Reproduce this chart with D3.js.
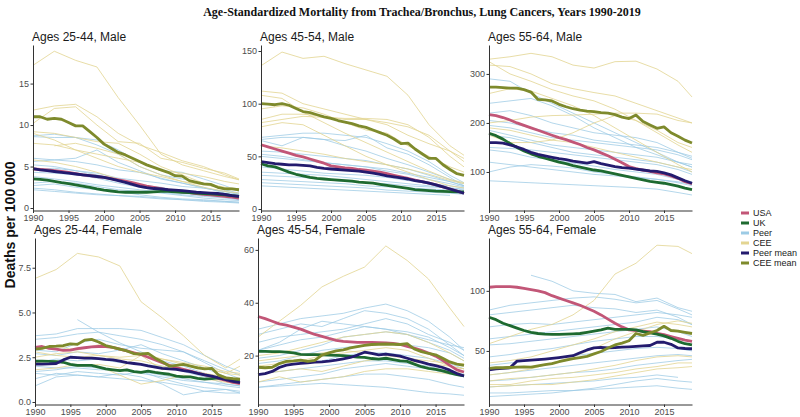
<!DOCTYPE html>
<html lang="en">
<head>
<meta charset="UTF-8" />
<title>Age-Standardized Mortality from Trachea/Bronchus, Lung Cancers</title>
<script src="https://d3js.org/d3.v7.min.js"></script>
<style>
    body { margin: 0; background: #fff; }
    .tick text { font-family: "Liberation Sans", Arial, sans-serif; font-size: 9px; fill: #4d4d4d; }
    .tick line { stroke: #333; }
    .domain { stroke: #333; }
    .ptitle { font-family: "Liberation Sans", Arial, sans-serif; font-size: 12px; fill: #1a1a1a; }
    .legend text { font-family: "Liberation Sans", Arial, sans-serif; font-size: 9px; fill: #1a1a1a; }
</style>
</head>
<body>
<div id="chart"></div>
<script>
// years of the yearly series
const years = [1990, 1991, 1992, 1993, 1994, 1995, 1996, 1997, 1998, 1999,
               2000, 2001, 2002, 2003, 2004, 2005, 2006, 2007, 2008, 2009,
               2010, 2011, 2012, 2013, 2014, 2015, 2016, 2017, 2018, 2019];
// years read for the single Peer / CEE countries
const bgYears = [1990, 1993, 1996, 1999, 2002, 2005, 2008, 2011, 2014, 2017, 2019];
const xTicks = [1990, 1995, 2000, 2005, 2010, 2015];

const legendLabels = ["USA", "UK", "Peer", "CEE", "Peer mean", "CEE mean"];
const legendColors = ["#c25677", "#1e6a30", "#9ccbe5", "#e3d592", "#231b6e", "#7e8a2c"];

// Ages 25-44, Male
const usaM2544 = [4.7, 4.65, 4.6, 4.5, 4.4, 4.3, 4.15, 4.0, 3.9, 3.8, 3.7, 3.55, 3.4, 3.25, 3.05, 2.85, 2.65, 2.5, 2.35, 2.2, 2.05, 1.95, 1.85, 1.75, 1.65, 1.6, 1.5, 1.4, 1.3, 1.2];
const ukM2544 = [3.5, 3.45, 3.35, 3.2, 3.05, 2.95, 2.8, 2.65, 2.5, 2.3, 2.15, 2.05, 1.95, 1.9, 1.9, 1.9, 1.9, 1.95, 2.0, 2.0, 1.95, 1.9, 1.85, 1.8, 1.75, 1.7, 1.65, 1.6, 1.5, 1.4];
const peerMeanM2544 = [4.75, 4.6, 4.5, 4.4, 4.3, 4.2, 4.1, 4.0, 3.9, 3.8, 3.7, 3.5, 3.3, 3.1, 2.85, 2.6, 2.45, 2.35, 2.3, 2.2, 2.15, 2.1, 2.0, 1.9, 1.85, 1.8, 1.75, 1.65, 1.5, 1.4];
const ceeMeanM2544 = [11.0, 11.0, 10.7, 10.8, 10.7, 10.3, 9.9, 9.9, 9.2, 8.5, 7.7, 7.2, 6.7, 6.4, 6.0, 5.6, 5.2, 4.9, 4.6, 4.3, 3.9, 3.85, 3.3, 3.1, 2.9, 2.85, 2.5, 2.3, 2.3, 2.2];
const peerM2544 = [
    [8.7, 8.9, 8.5, 7.6, 6.5, 5.0, 4.0, 3.5, 3.0, 2.2, 1.8],
    [8.6, 8.5, 8.5, 8.2, 7.0, 5.5, 4.5, 4.3, 3.5, 2.7, 2.0],
    [6.0, 5.8, 6.0, 7.0, 5.5, 4.5, 3.5, 3.0, 2.5, 1.8, 1.5],
    [5.6, 5.8, 5.6, 5.2, 4.6, 4.3, 3.6, 3.0, 2.4, 2.0, 1.6],
    [5.2, 5.0, 4.5, 4.0, 3.4, 2.8, 2.5, 2.0, 1.7, 1.5, 1.3],
    [4.3, 4.2, 4.0, 3.6, 3.0, 2.5, 2.0, 1.8, 1.5, 1.3, 1.1],
    [3.8, 3.5, 3.2, 2.8, 2.5, 2.2, 1.9, 1.6, 1.4, 1.2, 1.0],
    [3.0, 3.2, 3.0, 2.6, 2.2, 2.0, 1.8, 1.5, 1.2, 1.0, 0.9],
    [2.7, 2.9, 2.5, 2.2, 2.0, 1.6, 1.3, 1.1, 1.0, 0.8, 0.7],
    [2.4, 2.2, 1.9, 1.7, 1.5, 1.4, 1.2, 1.0, 0.9, 0.8, 0.7],
    [2.2, 2.0, 1.8, 1.6, 1.5, 1.3, 1.1, 1.0, 0.8, 0.7, 0.6],
    [4.6, 4.8, 4.5, 4.2, 3.6, 3.3, 3.0, 2.6, 2.4, 2.0, 1.7]
];
const ceeM2544 = [
    [17.2, 18.9, 17.8, 17.0, 13.3, 10.0, 6.5, 5.2, 4.5, 3.8, 3.4],
    [11.8, 12.3, 12.5, 11.0, 9.0, 7.6, 6.7, 5.7, 5.0, 4.0, 3.4],
    [10.2, 12.0, 12.2, 10.0, 8.0, 7.8, 6.0, 5.5, 4.8, 4.2, 3.5],
    [9.2, 9.0, 8.5, 8.0, 7.8, 6.5, 5.0, 4.0, 3.0, 2.5, 2.3],
    [9.0, 8.2, 7.0, 6.0, 5.0, 4.3, 3.8, 3.2, 2.8, 2.4, 2.2],
    [null, 7.5, 7.8, 7.2, 6.5, 5.0, 4.0, 3.2, 2.5, 2.0, 1.8],
    [5.8, 5.5, 5.0, 4.3, 3.5, 2.8, 2.4, 2.0, 1.8, 1.6, 1.5],
    [7.8, 7.6, 7.0, 6.5, 6.0, 5.5, 4.5, 4.2, 3.8, 3.2, 2.9]
];

// Ages 45-54, Male
const usaM4554 = [61, 59, 57, 55, 53, 51, 49.5, 47.5, 45.5, 43.5, 41, 40, 39, 38.5, 37.5, 37, 36, 35, 33.5, 32, 30.5, 29, 27.5, 26, 24.5, 23, 21, 19, 17, 15];
const ukM4554 = [43, 41, 40, 37.5, 35, 33, 31.5, 30, 29, 28.5, 28, 27.5, 27, 26.5, 25.5, 25, 24.5, 23.5, 22.5, 21.5, 20.5, 19.5, 18.5, 18, 17.5, 17, 16.8, 16.5, 16.3, 16.3];
const peerMeanM4554 = [45, 44, 43, 42.5, 42, 42, 41.5, 41, 39.5, 38.5, 38, 37.5, 37, 36.5, 36, 35, 34, 33, 31.5, 30.5, 29.5, 28.5, 27, 26, 24.5, 23, 21, 19, 17, 15];
const ceeMeanM4554 = [100, 99.5, 99, 100, 98.5, 95.5, 92.5, 91.5, 89.5, 87.5, 86, 84, 82.5, 81, 79, 77.5, 75, 72.5, 70, 66.5, 62, 62.5, 57, 52.5, 48, 48, 42, 37.5, 33.5, 32];
const peerM4554 = [
    [68, 70, 72, 72, 70, 68, 62, 55, 45, 32, 25],
    [65, 60, 68, 66, 65, 70, 58, 52, 42, 30, 22],
    [66, 68, 68, 66, 60, 55, 48, 42, 35, 28, 24],
    [55, 54, 52, 50, 48, 46, 42, 38, 32, 26, 22],
    [52, 50, 47, 44, 42, 40, 36, 33, 28, 24, 21],
    [50, 48, 46, 44, 42, 40, 38, 34, 30, 26, 22],
    [40, 38, 36, 34, 33, 32, 30, 27, 24, 22, 20],
    [35, 34, 33, 32, 30, 28, 26, 24, 22, 20, 19],
    [32, 31, 30, 28, 26, 25, 24, 22, 21, 20, 18],
    [28, 27, 26, 25, 24, 22, 21, 20, 19, 18, 17],
    [25, 24, 23, 22, 21, 20, 18, 17, 16, 15, 14],
    [22, 21, 20, 19, 18, 17, 16, 15, 14, 13, null]
];
const ceeM4554 = [
    [136, 149, 143, 145, 138, 132, 126, 108, 80, 60, 51],
    [112, 110, 100, 95, 90, 85, 80, 70, 62, 55, 48],
    [108, 105, 92, 82, 72, 63, 54, 45, 36, 28, 25],
    [95, 98, 96, 90, 82, 75, 72, 60, 50, 40, 35],
    [85, 90, 90, 88, 85, 85, 82, 78, 70, 55, 45],
    [82, 85, 88, 87, 86, 86, 85, 80, 68, 50, 40],
    [78, 82, 80, 70, 60, 50, 42, 35, 28, 22, 20],
    [60, 58, 55, 52, 48, 45, 42, 38, 33, 27, 24]
];

// Ages 55-64, Male
const usaM5564 = [217, 215, 211, 206, 200, 195, 190, 185, 180, 175, 170, 166, 161, 156, 150, 145, 139, 133, 126, 119, 111, 107, 104, 101, 98, 96, 92, 87, 80, 76];
const ukM5564 = [179, 174, 167, 158, 150, 143, 137, 132, 128, 124, 120, 117, 113, 110, 107, 104, 102, 99, 96, 93, 90, 87, 84, 81, 79, 77, 74, 71, 67, 64];
const peerMeanM5564 = [160, 160, 159, 155, 151, 146, 140, 136, 133, 130, 127, 125, 122, 120, 118, 121, 117, 114, 111, 109, 108, 106, 104, 102, 101, 98, 94, 88, 82, 77];
const ceeMeanM5564 = [273, 273, 272, 271, 271, 268, 263, 248, 247, 245, 238, 233, 229, 226, 224, 223, 221, 220, 217, 212, 209, 216, 203, 196, 189, 192, 180, 173, 165, 159];
const peerM5564 = [
    [290, 285, 260, 240, 220, 200, 180, 160, 140, 120, 110],
    [240, 245, 250, 235, 215, 190, 170, 150, 135, 120, 115],
    [220, 225, 215, 200, 190, 180, 175, 170, 160, 140, 128],
    [205, 200, 190, 180, 175, 165, 160, 155, 150, 140, 132],
    [195, 190, 180, 170, 165, 160, 155, 150, 145, 135, 125],
    [185, 175, 165, 155, 150, 145, 140, 135, 130, 120, 110],
    [175, 170, 160, 150, 140, 135, 130, 125, 120, 110, 100],
    [150, 148, 145, 140, 135, 130, 125, 120, 115, 105, 95],
    [145, 140, 130, 125, 118, 112, 105, 100, 95, 85, 80],
    [120, 115, 110, 105, 100, 95, 92, 88, 85, 80, 75],
    [100, 110, 115, 112, 108, 100, 95, 90, 85, 78, 72],
    [82, 80, 78, 76, 74, 72, 70, 68, 65, 58, 53]
];
const ceeM5564 = [
    [330, 335, 342, 335, 318, 312, 325, 326, 310, 285, 253],
    [318, 315, 300, 280, 270, 262, 255, 240, 225, 210, 200],
    [325, 300, 285, 268, 255, 245, 228, 205, 180, 155, 140],
    [200, 205, 212, 215, 216, 218, 220, 220, 218, 205, 200],
    [175, 160, 160, 165, 180, 200, 215, 205, 185, 160, 150],
    [190, 185, 175, 165, 160, 150, 140, 130, 120, 110, 105],
    [260, 270, 265, 250, 235, 215, 190, 165, 140, 115, 100]
];

// Ages 25-44, Female
const usaF2544 = [3.05, 3.1, 3.0, 2.95, 2.88, 2.9, 2.98, 3.03, 3.08, 3.1, 3.1, 3.05, 2.95, 2.85, 2.75, 2.65, 2.5, 2.35, 2.2, 2.05, 1.92, 1.82, 1.72, 1.62, 1.52, 1.42, 1.3, 1.2, 1.1, 1.02];
const ukF2544 = [2.28, 2.28, 2.27, 2.25, 2.22, 2.1, 2.05, 2.05, 2.05, 1.95, 1.85, 1.8, 1.75, 1.8, 1.7, 1.65, 1.72, 1.65, 1.6, 1.55, 1.45, 1.4, 1.4, 1.32, 1.28, 1.3, 1.35, 1.3, 1.25, 1.22];
const peerMeanF2544 = [2.12, 2.12, 2.13, 2.15, 2.35, 2.5, 2.48, 2.45, 2.45, 2.42, 2.38, 2.35, 2.28, 2.2, 2.15, 2.1, 2.02, 1.95, 1.88, 1.85, 1.82, 1.75, 1.7, 1.6, 1.52, 1.45, 1.35, 1.25, 1.15, 1.08];
const ceeMeanF2544 = [2.95, 3.0, 3.1, 3.12, 3.15, 3.25, 3.22, 3.45, 3.5, 3.35, 3.15, 3.05, 2.95, 2.85, 2.7, 2.68, 2.72, 2.45, 2.25, 2.0, 2.05, 2.1, 2.0, 1.9, 1.85, 1.88, 1.5, 1.35, 1.3, 1.27];
const peerF2544 = [
    [null, null, 4.6, 3.9, 3.3, 2.8, 2.3, 2.0, 1.6, 1.3, 1.1],
    [3.7, 3.8, 4.1, 4.1, 4.1, 4.0, 3.6, 3.2, 2.6, 2.0, 1.7],
    [3.5, 3.6, 3.8, 3.9, 3.7, 3.5, 3.2, 2.8, 2.3, 1.8, 1.5],
    [2.9, 2.8, 3.3, 3.5, 3.2, 3.0, 2.9, 2.8, 2.2, 1.6, 1.3],
    [2.7, 2.6, 2.8, 2.7, 2.9, 3.2, 2.7, 2.3, 1.9, 1.4, 1.2],
    [2.2, 2.4, 2.3, 2.4, 2.2, 2.1, 2.0, 1.7, 1.4, 1.0, 0.9],
    [1.7, 1.8, 2.0, 1.9, 1.8, 1.7, 1.5, 1.3, 1.1, 0.9, 0.8],
    [1.6, 1.5, 1.7, 1.6, 1.5, 1.7, 1.3, 1.0, 0.8, 0.7, 0.6],
    [1.3, 1.6, 1.5, 1.4, 1.3, 1.2, 1.1, 0.9, 0.6, 0.5, 0.5],
    [0.9, 1.4, 1.5, 1.4, 1.6, 1.4, 1.0, 0.4, 0.6, 0.7, 0.5],
    [2.0, 1.9, 1.9, 1.8, 1.8, 1.6, 1.4, 1.2, 1.1, 1.0, 0.9]
];
const ceeF2544 = [
    [6.9, 7.4, 8.3, 8.1, 7.6, 5.6, 4.7, 3.7, 2.6, 1.9, 2.4],
    [2.8, 2.6, 2.5, 2.6, 2.5, 2.6, 2.4, 2.2, 2.0, 1.7, 1.6],
    [2.5, 2.7, 2.8, 2.6, 2.4, 2.3, 2.0, 1.8, 1.6, 1.4, 1.3],
    [2.2, 2.3, 2.0, 2.1, 1.9, 2.6, 1.8, 2.1, 1.9, 1.6, 2.0],
    [1.8, 1.9, 2.1, 2.0, 1.5, 1.0, 1.2, 1.5, 1.3, 1.1, 1.0],
    [3.0, 3.1, 2.9, 3.2, 2.9, 2.7, 2.4, 2.1, 1.9, 1.6, 1.5]
];

// Ages 45-54, Female
const usaF4554 = [34.8, 34, 33, 32, 31.5, 30.8, 30, 29, 28, 27.3, 26.5, 25.8, 25.4, 25.2, 25.0, 25.0, 25.0, 24.9, 24.8, 24.6, 24.2, 23.5, 22.8, 22, 21, 19.8, 18.2, 16.3, 14.6, 13.8];
const ukF4554 = [21.6, 21.6, 21.5, 21.5, 21.3, 21.0, 20.5, 20.4, 20.4, 20.3, 20.2, 20.1, 20.0, 19.7, 19.4, 19.3, 18.9, 18.7, 19.0, 18.5, 18.0, 17.8, 16.8, 15.8, 15.2, 14.8, 14.2, 13.5, 12.8, 12.3];
const peerMeanF4554 = [12.8, 13.2, 14.0, 15.5, 16.4, 16.8, 17.1, 17.3, 17.5, 17.6, 17.9, 18.3, 18.8, 19.3, 20.2, 21.3, 20.8, 20.3, 20.6, 20.2, 19.8, 19.0, 18.2, 17.5, 16.8, 16.2, 15.5, 14.5, 13.2, 12.3];
const ceeMeanF4554 = [15.6, 15.4, 15.6, 17.0, 17.8, 18.0, 18.3, 17.8, 18.2, 20.2, 21.0, 21.8, 22.2, 22.9, 23.4, 23.9, 24.2, 24.3, 24.4, 24.3, 24.2, 24.5, 22.5, 21.5, 20.8, 20.3, 19.0, 17.6, 16.8, 16.3];
const peerF4554 = [
    [30, 32, 34, 35, 36, 38, 39.5, 37, 33, 27, 22],
    [28, 30, 32, 31, 34, 37, 36, 34, 30, 24, 20],
    [22, 25, 30, 33, 32, 31, 30, 28, 26, 24, 23],
    [22, 24, 26, 27, 29, 31, 30, 29, 27, 23, 20],
    [19, 20, 22, 24, 27, 28, 29, 28, 25, 22, 19],
    [17, 18, 20, 22, 23, 24, 25, 24, 23, 21, 18],
    [15, 16, 17, 18, 20, 21, 21, 20, 19, 17, 15],
    [13, 14, 15, 16, 17, 18, 18, 17, 16, 14, 13],
    [10, 11, 12, 13, 15, 16, 17, 16, 15, 13, 12],
    [8, 9, 10, 11, 12, 13, 13, 12, 11, 9, 8],
    [8, 8.5, 9, 9.5, 9, 8.5, 8, 7, 6, 5.5, 5],
    [25, 27, 28, 29, 30, 32, 34, 32, 28, 25, 22]
];
const ceeF4554 = [
    [27, 33, 39, 46, 50, 53.5, 61.5, 56, 49, 38, 31],
    [20, 21, 23, 25, 27, 28, 29, 28, 25, 21, 18],
    [13, 14, 15, 14, 16, 18, 19, 18, 17, 16, 15],
    [10, 12, 10, 11, 12, 14, 15, 15, 14, 13, 14],
    [16, 17, 18, 20, 21, 22, 23, 22, 19, 16, 15],
    [18, 19, 20, 21, 22, 21, 20, 19, 18, 17, 17]
];

// Ages 55-64, Female
const usaF5564 = [103, 103.5, 103.5, 103.5, 103, 102, 101, 100, 98.5, 96, 94, 92, 90, 88, 85.5, 83, 80, 76.5, 73, 70, 67.5, 67, 66.5, 66, 64.5, 63.5, 62, 60.5, 59, 58];
const ukF5564 = [78, 76, 73, 71, 69, 67, 65.5, 64.5, 64, 63.8, 63.8, 64, 64.2, 64.5, 65.5, 66.5, 67.5, 69, 68, 68, 68, 67.5, 66, 65, 64, 62.5, 60.5, 58, 56, 55];
const peerMeanF5564 = [34.2, 35, 35.5, 36, 41.5, 42, 42.3, 42.7, 43.2, 43.8, 44.5, 45.2, 46, 48.5, 50.8, 52.5, 53, 52.5, 52.8, 53.1, 53.4, 53.8, 54.2, 54.5, 57.2, 57.2, 55.5, 52.5, 52, 51.8];
const ceeMeanF5564 = [35.5, 36, 36, 36.2, 36.5, 36.8, 36.5, 37.5, 38.5, 39.5, 41, 42.3, 43.5, 44.5, 45.5, 47.5, 49.5, 52.5, 55, 56.5, 58.5, 64.5, 63, 65, 67, 70.5, 67, 66.5, 65.5, 64.5];
const peerF5564 = [
    [null, null, 113, 108, 100, 98, 97, 91, 94, 86, 83],
    [84, 88, 90, 92, 94, 95, 93, 90, 92, 85, 80],
    [80, 82, 84, 86, 88, 86, 85, 82, 84, 78, 72],
    [70, 72, 73, 72, 74, 76, 78, 80, 82, 80, 78],
    [60, 62, 64, 66, 68, 70, 72, 74, 78, 76, 72],
    [55, 56, 58, 60, 62, 64, 66, 68, 70, 66, 62],
    [45, 47, 50, 52, 55, 58, 60, 62, 62, 60, 58],
    [38, 40, 42, 44, 46, 48, 50, 52, 53, 52, 50],
    [30, 32, 34, 36, 38, 40, 42, 44, 46, 47, 46],
    [25, 26, 28, 30, 32, 33, 35, 38, 40, 42, 43],
    [20, 21, 22, 23, 24, 25, 27, 28, 30, 28, null],
    [15, 15, 16, 17, 17, 18, 19, 20, 21, 19, 18],
    [12, 13, 14, 15, 17, 19, 22, 25, 27, 25, 24]
];
const ceeF5564 = [
    [56, 62, 68, 72, 80, 92, 114, 123, 138, 137, 131],
    [40, 42, 45, 50, 55, 60, 66, 70, 74, 72, 70],
    [30, 32, 35, 40, 45, 52, 60, 66, 72, 75, 73],
    [25, 27, 28, 30, 32, 35, 38, 42, 45, 46, 45],
    [22, 22, 25, 27, 28, 30, 32, 35, 37, 40, 40],
    [20, 21, 22, 22, 24, 26, 29, 32, 35, 36, 37]
];

const yTicksM2544 = [0, 5, 10, 15];
const yTicksM4554 = [0, 50, 100, 150];
const yTicksM5564 = [100, 200, 300];
const yTicksF2544 = [0, 2.5, 5, 7.5];
const yTicksF4554 = [20, 40, 60];
const yTicksF5564 = [50, 100];

var width = 800, height = 417;

let svg = d3.select("#chart").append("svg")
    .attr("width", width)
    .attr("height", height);

svg.append("text")
    .attr("x", 422).attr("y", 16)
    .attr("text-anchor", "middle")
    .style("font-family", "'Liberation Serif', 'Times New Roman', serif")
    .style("font-weight", "bold")
    .style("font-size", "12px")
    .attr("fill", "#111")
    .text("Age-Standardized Mortality from Trachea/Bronchus, Lung Cancers, Years 1990-2019");

svg.append("text")
    .attr("transform", "translate(15,225) rotate(-90)")
    .attr("text-anchor", "middle")
    .style("font-family", "'Liberation Sans', Arial, sans-serif")
    .style("font-weight", "bold")
    .style("font-size", "14px")
    .attr("fill", "#111")
    .text("Deaths per 100 000");

// layout of the 6 panels (plot box in px, y domain)
const panels = [
    { title: "Ages 25-44, Male", usa: usaM2544, uk: ukM2544, peerMean: peerMeanM2544, ceeMean: ceeMeanM2544,
      peer: peerM2544, cee: ceeM2544, ticks: yTicksM2544, fmt: d3.format("d"),
      x0: 33, x1: 239, top: 45, bottom: 210.5, domain: [-0.3, 19.65] },
    { title: "Ages 45-54, Male", usa: usaM4554, uk: ukM4554, peerMean: peerMeanM4554, ceeMean: ceeMeanM4554,
      peer: peerM4554, cee: ceeM4554, ticks: yTicksM4554, fmt: d3.format("d"),
      x0: 261, x1: 464, top: 45, bottom: 210.5, domain: [-1.4, 155.7] },
    { title: "Ages 55-64, Male", usa: usaM5564, uk: ukM5564, peerMean: peerMeanM5564, ceeMean: ceeMeanM5564,
      peer: peerM5564, cee: ceeM5564, ticks: yTicksM5564, fmt: d3.format("d"),
      x0: 489, x1: 692, top: 45, bottom: 210.5, domain: [21.4, 359] },
    { title: "Ages 25-44, Female", usa: usaF2544, uk: ukF2544, peerMean: peerMeanF2544, ceeMean: ceeMeanF2544,
      peer: peerF2544, cee: ceeF2544, ticks: yTicksF2544, fmt: d3.format(".1f"),
      x0: 35, x1: 240, top: 238, bottom: 404.5, domain: [-0.14, 9.16] },
    { title: "Ages 45-54, Female", usa: usaF4554, uk: ukF4554, peerMean: peerMeanF4554, ceeMean: ceeMeanF4554,
      peer: peerF4554, cee: ceeF4554, ticks: yTicksF4554, fmt: d3.format("d"),
      x0: 258, x1: 464, top: 238, bottom: 404.5, domain: [1.5, 64.5] },
    { title: "Ages 55-64, Female", usa: usaF5564, uk: ukF5564, peerMean: peerMeanF5564, ceeMean: ceeMeanF5564,
      peer: peerF5564, cee: ceeF5564, ticks: yTicksF5564, fmt: d3.format("d"),
      x0: 489, x1: 692, top: 238, bottom: 404.5, domain: [5.4, 144] }
];

panels.forEach(function(p) {
    let g = svg.append("g");
    let x = d3.scaleLinear().domain([1990, 2019]).range([p.x0, p.x1]);
    let y = d3.scaleLinear().domain(p.domain).range([p.bottom, p.top]);

    let line = d3.line()
        .defined(d => d[1] != null)
        .x(d => x(d[0]))
        .y(d => y(d[1]));

    let yearly = vals => vals.map((v, i) => [years[i], v]);
    let sparse = vals => vals.map((v, i) => [bgYears[i], v]);

    // single countries
    g.selectAll(".peer").data(p.peer).enter().append("path")
        .attr("d", d => line(sparse(d)))
        .attr("fill", "none").attr("stroke", legendColors[2])
        .attr("stroke-width", 0.9).attr("opacity", 0.85);
    g.selectAll(".cee").data(p.cee).enter().append("path")
        .attr("d", d => line(sparse(d)))
        .attr("fill", "none").attr("stroke", legendColors[3])
        .attr("stroke-width", 0.9).attr("opacity", 0.9);

    // highlighted series
    [[p.usa, 0], [p.uk, 1], [p.peerMean, 4], [p.ceeMean, 5]].forEach(function(s) {
        g.append("path")
            .attr("d", line(yearly(s[0])))
            .attr("fill", "none")
            .attr("stroke", legendColors[s[1]])
            .attr("stroke-width", 2.8)
            .attr("stroke-linejoin", "round");
    });

    g.append("g")
        .attr("transform", "translate(0," + p.bottom + ")")
        .call(d3.axisBottom(x).tickValues(xTicks).tickFormat(d3.format("d"))
            .tickSize(2.5).tickSizeOuter(0).tickPadding(1.5));
    g.append("g")
        .attr("transform", "translate(" + p.x0 + ",0)")
        .call(d3.axisLeft(y).tickValues(p.ticks).tickFormat(p.fmt)
            .tickSize(2.5).tickSizeOuter(0).tickPadding(1.5));

    g.append("text")
        .attr("class", "ptitle")
        .attr("x", p.x0 - 1).attr("y", p.top - 4)
        .text(p.title);
});

// legend
let legend = svg.append("g").attr("class", "legend");
legendLabels.forEach(function(lab, i) {
    let yy = 213 + i * 10;
    legend.append("line")
        .attr("x1", 741).attr("x2", 749)
        .attr("y1", yy).attr("y2", yy)
        .attr("stroke", legendColors[i]).attr("stroke-width", 3);
    legend.append("text")
        .attr("x", 753).attr("y", yy + 3.2)
        .text(lab);
});
</script>
</body>
</html>
